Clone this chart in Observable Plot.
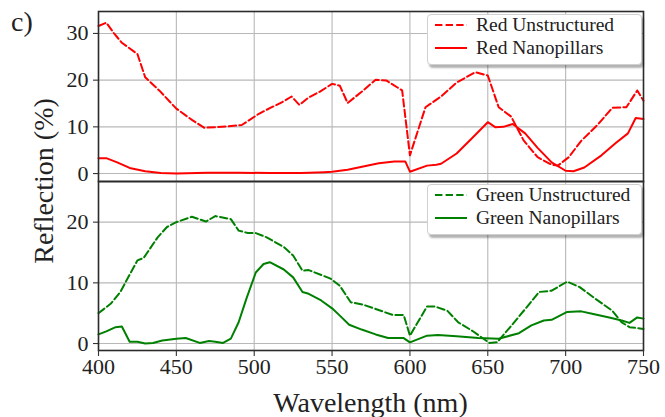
<!DOCTYPE html>
<html><head><meta charset="utf-8">
<script src="https://cdn.jsdelivr.net/npm/d3@7"></script>
<script src="https://cdn.jsdelivr.net/npm/@observablehq/plot@0.6"></script>
<style>
html,body{margin:0;padding:0;background:#fff;}
#wrap{position:relative;width:665px;height:417px;overflow:hidden;font-family:"Liberation Serif",serif;color:#222;}
#wrap svg.plotsvg{position:absolute;left:0;}
.lg{position:absolute;background:#fff;border:1px solid #d0d0d0;border-radius:4px;box-shadow:2px 3px 2px rgba(0,0,0,0.3);}
.row{position:absolute;left:7px;height:22px;display:flex;align-items:center;font-size:19.5px;white-space:nowrap;color:#222;}
.row svg{margin-right:9px;}
.txt{position:absolute;white-space:nowrap;color:#222;}
</style></head><body><div id="wrap"></div>
<script>
// ---- data (wavelength in nm, reflection in %) ----
const redUnstrNm = [400,405,410,415,425,430,439,450,460,468,483,492,503,510,518,524,529,535,542,550,555,560,570,578,585,595,600,610,620,630,642,650,657,665,673,682,691,695,702,710,721,730,739,746,750];
const redUnstrR  = [31.6,32.3,30.0,28.0,25.6,20.6,17.8,13.9,11.5,9.8,10.1,10.4,12.8,14.0,15.3,16.5,14.7,16.3,17.5,19.2,18.8,15.1,17.8,20.1,19.9,17.8,3.9,14.2,16.5,19.5,21.7,21.0,14.2,12.2,7.1,3.5,1.9,1.7,3.5,7.0,10.6,14.1,14.2,17.8,15.6];
const redNanoNm  = [400,405,412,420,430,440,450,470,490,510,530,545,550,560,570,580,590,597,600,611,617,620,630,640,650,655,660,666,674,682,691,700,705,712,723,732,740,745,750];
const redNanoR   = [3.3,3.3,2.4,1.2,0.5,0.1,0.0,0.2,0.2,0.1,0.1,0.3,0.4,0.8,1.5,2.2,2.6,2.6,0.4,1.7,1.9,2.1,4.3,7.6,11.0,9.9,10.0,10.6,8.6,5.5,2.4,0.6,0.5,1.3,3.9,6.5,8.6,11.9,11.7];
const greenUnstrNm = [400,408,414,425,429,438,444,450,460,469,475,485,490,496,501,508,519,525,531,535,549,555,562,570,578,589,596,600,611,616,624,631,640,651,656,668,683,691,701,709,719,730,736,741,750];
const greenUnstrR  = [5.0,6.6,8.5,13.7,14.1,17.5,19.2,20.0,20.9,20.1,21.0,20.5,18.6,18.2,18.2,17.5,15.9,14.5,12.0,12.1,10.7,9.5,6.8,6.4,5.7,4.7,4.7,1.3,6.1,6.1,5.4,3.5,2.1,0.1,0.2,3.8,8.5,8.7,10.2,9.3,7.4,5.4,3.5,2.7,2.4];
const greenNanoNm  = [400,405,411,415,420,425,430,435,441,450,456,465,471,475,480,485,490,495,501,506,510,519,525,531,535,543,550,555,561,569,578,586,596,600,611,618,630,644,657,670,678,686,691,701,710,717,728,736,741,746,750];
const greenNanoR   = [1.5,2.0,2.7,2.8,0.3,0.3,0.0,0.1,0.5,0.8,0.9,0.1,0.4,0.3,0.1,0.8,3.5,7.4,11.7,13.1,13.4,12.2,10.9,8.5,8.2,7.1,5.8,4.6,3.1,2.3,1.5,0.9,0.9,0.2,1.3,1.4,1.2,0.9,0.8,1.7,3.0,3.8,3.9,5.2,5.3,4.9,4.3,3.8,3.4,4.3,4.1];

const xTicks = [400,450,500,550,600,650,700,750];
const topYTicks = [0,10,20,30];
const botYTicks = [0,10,20];
const topNames = ["Red Unstructured","Red Nanopillars"];
const botNames = ["Green Unstructured","Green Nanopillars"];
const xLabel = "Wavelength (nm)";
const yLabel = "Reflection (%)";
const panelTag = "c)";

const RED = "#ff0000", GREEN = "#008000";
const DASH = "7.4,3.2";
const FONT = "Liberation Serif, serif";

const toRows = (nm, r) => nm.map((x, i) => ({x, y: r[i]}));

const wrap = document.getElementById("wrap");

function panel({height, marginTop, marginBottom, yDomain, yTicks, series, showX}) {
  const marks = [
    Plot.gridX(xTicks, {stroke: "#b8b8b8", strokeOpacity: 1, strokeWidth: 1.1}),
    Plot.gridY(yTicks, {stroke: "#b8b8b8", strokeOpacity: 1, strokeWidth: 1.1}),
    ...series.map(s => Plot.line(toRows(s.nm, s.r), {x: "x", y: "y", stroke: s.color, strokeWidth: 2, strokeDasharray: s.dash ? DASH : null, curve: "linear"})),
    Plot.axisY(yTicks, {tickSize: 5, tickPadding: 5, fontSize: 22, stroke: "#333", strokeWidth: 1.1, label: null, fill: "#222"}),
    Plot.frame({stroke: "#2b2b2b", strokeWidth: 1.6})
  ];
  if (showX) marks.push(Plot.axisX(xTicks, {tickSize: 6, tickPadding: 2, fontSize: 22, stroke: "#333", strokeWidth: 1.1, label: null, fill: "#222"}));
  const svg = Plot.plot({
    width: 665, height,
    marginLeft: 98, marginRight: 22, marginTop, marginBottom,
    x: {domain: [400, 750], axis: null},
    y: {domain: yDomain, axis: null},
    style: {fontFamily: FONT, background: "transparent", color: "#222", overflow: "visible"},
    marks
  });
  svg.classList.add("plotsvg");
  return svg;
}

const topPanel = panel({
  height: 181, marginTop: 11, marginBottom: 0, yDomain: [-1.7, 34.7], yTicks: topYTicks, showX: false,
  series: [
    {nm: redUnstrNm, r: redUnstrR, color: RED, dash: true},
    {nm: redNanoNm, r: redNanoR, color: RED, dash: false}
  ]
});
topPanel.style.top = "0px";
const botPanel = panel({
  height: 236, marginTop: 0, marginBottom: 67, yDomain: [-1.15, 26.7], yTicks: botYTicks, showX: true,
  series: [
    {nm: greenUnstrNm, r: greenUnstrR, color: GREEN, dash: true},
    {nm: greenNanoNm, r: greenNanoR, color: GREEN, dash: false}
  ]
});
botPanel.style.top = "181px";
wrap.appendChild(topPanel);
wrap.appendChild(botPanel);

function legend(left, topPx, names, color) {
  const box = document.createElement("div");
  box.className = "lg";
  Object.assign(box.style, {left: left + "px", top: topPx + "px", width: "213px", height: "49px"});
  names.forEach((n, i) => {
    const row = document.createElement("div");
    row.className = "row";
    row.style.top = (i * 23 - 1) + "px";
    row.innerHTML = `<svg width="32" height="6"><line x1="0" x2="32" y1="3" y2="3" stroke="${color}" stroke-width="2" ${i === 0 ? `stroke-dasharray="${DASH}"` : ""}/></svg><span>${n}</span>`;
    box.appendChild(row);
  });
  wrap.appendChild(box);
}
legend(427, 14, topNames, RED);
legend(427, 184, botNames, GREEN);

function label(text, css) {
  const d = document.createElement("div");
  d.className = "txt";
  d.textContent = text;
  Object.assign(d.style, css);
  wrap.appendChild(d);
}
label(xLabel, {left: "0px", width: "741px", textAlign: "center", top: "388px", fontSize: "28px", lineHeight: "30px"});
label(yLabel, {left: "44px", top: "181px", fontSize: "28px", lineHeight: "30px", transform: "translate(-50%,-50%) rotate(-90deg)"});
label(panelTag, {left: "11px", top: "7px", fontSize: "28px", lineHeight: "30px"});
</script></body></html>
